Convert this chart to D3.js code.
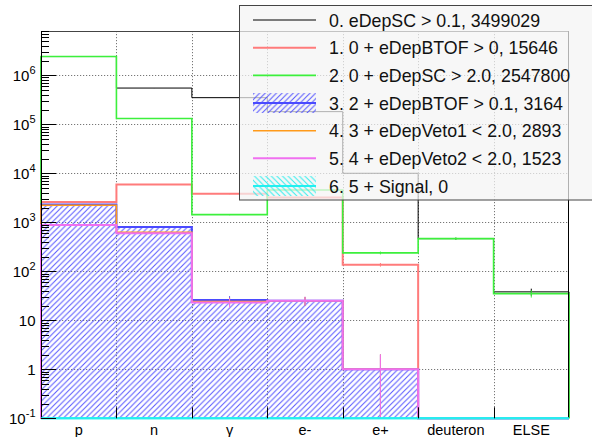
<!DOCTYPE html>
<html><head><meta charset="utf-8">
<script src="https://cdn.jsdelivr.net/npm/d3@7"></script>
<style>
body{margin:0;background:#fff}
svg{display:block;font-family:"Liberation Sans",Arial,Helvetica,sans-serif}
</style>
</head><body>
<svg id="c" width="592" height="437"></svg>
<script>
// Particle categories (histogram bins)
const categories = ["p", "n", "γ", "e-", "e+", "deuteron", "ELSE"];

// Selection stages: entries per particle type
const stage0 = [2410000, 548000, 349000, 181000, 10000, 464, 38];
const stage1 = [2600, 5900, 3800, 3210, 136, 0, 0];
const stage2 = [2410064, 131000, 1430, 4570, 237, 464, 35];
const stage3 = [2312, 800, 26, 25, 1, 0, 0];
const stage4 = [2218, 625, 24, 25, 1, 0, 0];
const stage5 = [877, 597, 23, 25, 1, 0, 0];
const stage6 = [0, 0, 0, 0, 0, 0, 0];

const stageLabels = [
  "0. eDepSC > 0.1, 3499029",
  "1. 0 + eDepBTOF > 0, 15646",
  "2. 0 + eDepSC > 2.0, 2547800",
  "3. 2 + eDepBTOF > 0.1, 3164",
  "4. 3 + eDepVeto1 < 2.0, 2893",
  "5. 4 + eDepVeto2 < 2.0, 1523",
  "6. 5 + Signal, 0"
];

// Decade exponents labelled on the y axis
const yDecades = [-1, 0, 1, 2, 3, 4, 5, 6];

const styles = [
  {color: "#000000", width: 1},
  {color: "#ff7b7b", width: 2},
  {color: "#3cf03c", width: 1.6},
  {color: "#4a4aff", width: 2, hatch: "hatchBlue"},
  {color: "#ff9a1a", width: 1.6},
  {color: "#f070f0", width: 2},
  {color: "#22f0f0", width: 2, hatch: "hatchCyan"}
];
const stages = [stage0, stage1, stage2, stage3, stage4, stage5, stage6];

const svg = d3.select("#c");
const L = 41, R = 569, T = 31, B = 418.3;
const yMin = 0.1, yMax = 8e6;

const x = d3.scaleBand().domain(categories).range([L, R]).paddingInner(0).paddingOuter(0);
const y = d3.scaleLog().domain([yMin, yMax]).range([B, T]);

// Hatch patterns
const defs = svg.append("defs");
function hatch(id, color, dir) {
  const w = 5.6;
  const p = defs.append("pattern").attr("id", id)
    .attr("patternUnits", "userSpaceOnUse").attr("width", w).attr("height", w);
  const d = dir === "/"
    ? `M0,${w} L${w},0 M${-w/2},${w/2} L${w/2},${-w/2} M${w/2},${w*1.5} L${w*1.5},${w/2}`
    : `M0,0 L${w},${w} M${-w/2},${w/2} L${w/2},${w*1.5} M${w/2},${-w/2} L${w*1.5},${w/2}`;
  p.append("path").attr("d", d).attr("stroke", color).attr("stroke-width", 1).attr("fill", "none");
}
hatch("hatchBlue", "#5555ff", "/");
hatch("hatchCyan", "#30eeee", "\\");

// Grid
const grid = svg.append("g").attr("stroke", "#777").attr("stroke-dasharray", "1.2,1.8").attr("stroke-width", 1);
yDecades.filter(e => e > -1).forEach(e => {
  const yy = Math.round(y(Math.pow(10, e))) + 0.5;
  grid.append("line").attr("x1", L).attr("x2", R).attr("y1", yy).attr("y2", yy);
});
categories.slice(1).forEach(c => {
  const xx = Math.round(x(c)) + 0.5;
  grid.append("line").attr("x1", xx).attr("x2", xx).attr("y1", T).attr("y2", B);
});

const clampV = v => Math.max(v, yMin);

function stepPath(vals) {
  const p = d3.path();
  p.moveTo(x(categories[0]), B);
  vals.forEach((v, i) => {
    const x0 = x(categories[i]), x1 = x0 + x.bandwidth();
    p.lineTo(x0, y(clampV(v)));
    p.lineTo(x1, y(clampV(v)));
  });
  p.lineTo(x(categories[categories.length - 1]) + x.bandwidth(), B);
  return p.toString();
}

const plot = svg.append("g");
stages.forEach((vals, si) => {
  const st = styles[si];
  if (st.hatch) {
    plot.append("path").attr("d", stepPath(vals) + "Z")
      .attr("fill", `url(#${st.hatch})`).attr("stroke", "none");
  }
  plot.append("path").attr("d", stepPath(vals))
    .attr("fill", "none").attr("stroke", st.color).attr("stroke-width", st.width);
  // statistical error bars
  vals.forEach((v, i) => {
    if (v <= 0) return;
    const e = Math.sqrt(v);
    const cx = x(categories[i]) + x.bandwidth() / 2;
    plot.append("line").attr("x1", cx).attr("x2", cx)
      .attr("y1", y(clampV(v - e))).attr("y2", y(v + e))
      .attr("stroke", st.color).attr("stroke-width", 1);
  });
});

// Frame
const frame = svg.append("g").attr("stroke", "#000").attr("fill", "none");
frame.append("line").attr("x1", L).attr("x2", R).attr("y1", T + 0.5).attr("y2", T + 0.5).attr("stroke", "#444");
frame.append("line").attr("x1", R - 0.5).attr("x2", R - 0.5).attr("y1", T).attr("y2", B);
frame.append("line").attr("x1", L + 0.5).attr("x2", L + 0.5).attr("y1", T).attr("y2", B);

// Bottom line carrying the empty signal stage
svg.append("line").attr("x1", L).attr("x2", R).attr("y1", B).attr("y2", B)
  .attr("stroke", styles[6].color).attr("stroke-width", 2);

// Y ticks (inside the frame)
const ticks = svg.append("g").attr("stroke", "#000").attr("stroke-width", 1);
yDecades.forEach(e => {
  for (let m = 1; m <= 9; m++) {
    const v = m * Math.pow(10, e);
    if (v > yMax || v < yMin) continue;
    const yy = Math.round(y(v)) + 0.5;
    ticks.append("line").attr("x1", L).attr("x2", L + (m === 1 ? 15 : 8)).attr("y1", yy).attr("y2", yy);
  }
});
// X ticks at bin edges
categories.forEach((c, i) => {
  if (i === 0) return;
  const xx = Math.round(x(c)) + 0.5;
  ticks.append("line").attr("x1", xx).attr("x2", xx).attr("y1", B).attr("y2", B - 11);
});

// Y tick labels
const yl = svg.append("g").attr("font-size", 15).attr("fill", "#000").attr("text-anchor", "end");
yDecades.forEach(e => {
  const t = yl.append("text").attr("x", 35.5).attr("y", y(Math.pow(10, e)) + 5.4);
  if (e === 0) t.text("1");
  else if (e === 1) t.text("10");
  else {
    t.append("tspan").text("10");
    t.append("tspan").attr("dy", -7).attr("font-size", 11).text(e < 0 ? "-" + (-e) : String(e));
  }
});

// X category labels
svg.append("g").attr("font-size", 14.5).attr("text-anchor", "middle").attr("fill", "#000")
  .selectAll("text").data(categories).join("text")
  .attr("x", d => x(d) + x.bandwidth() / 2).attr("y", 435).text(d => d);

// Legend
const lg = svg.append("g");
lg.append("rect").attr("x", 239.5).attr("y", 5.5).attr("width", 360).attr("height", 194.5)
  .attr("fill", "rgba(244,244,244,0.72)").attr("stroke", "#444").attr("stroke-width", 1);
const rowY = i => 20 + i * 27.67;
stageLabels.forEach((lab, i) => {
  const st = styles[i];
  const cy = rowY(i);
  if (st.hatch) {
    lg.append("rect").attr("x", 253).attr("y", cy - 10).attr("width", 63).attr("height", 20)
      .attr("fill", `url(#${st.hatch})`);
  }
  lg.append("line").attr("x1", 253).attr("x2", 316).attr("y1", cy).attr("y2", cy)
    .attr("stroke", st.color).attr("stroke-width", st.width);
  lg.append("text").attr("x", 329).attr("y", cy + 6.6).attr("font-size", 17.8).attr("fill", "#111").text(lab);
});
</script>
</body></html>
